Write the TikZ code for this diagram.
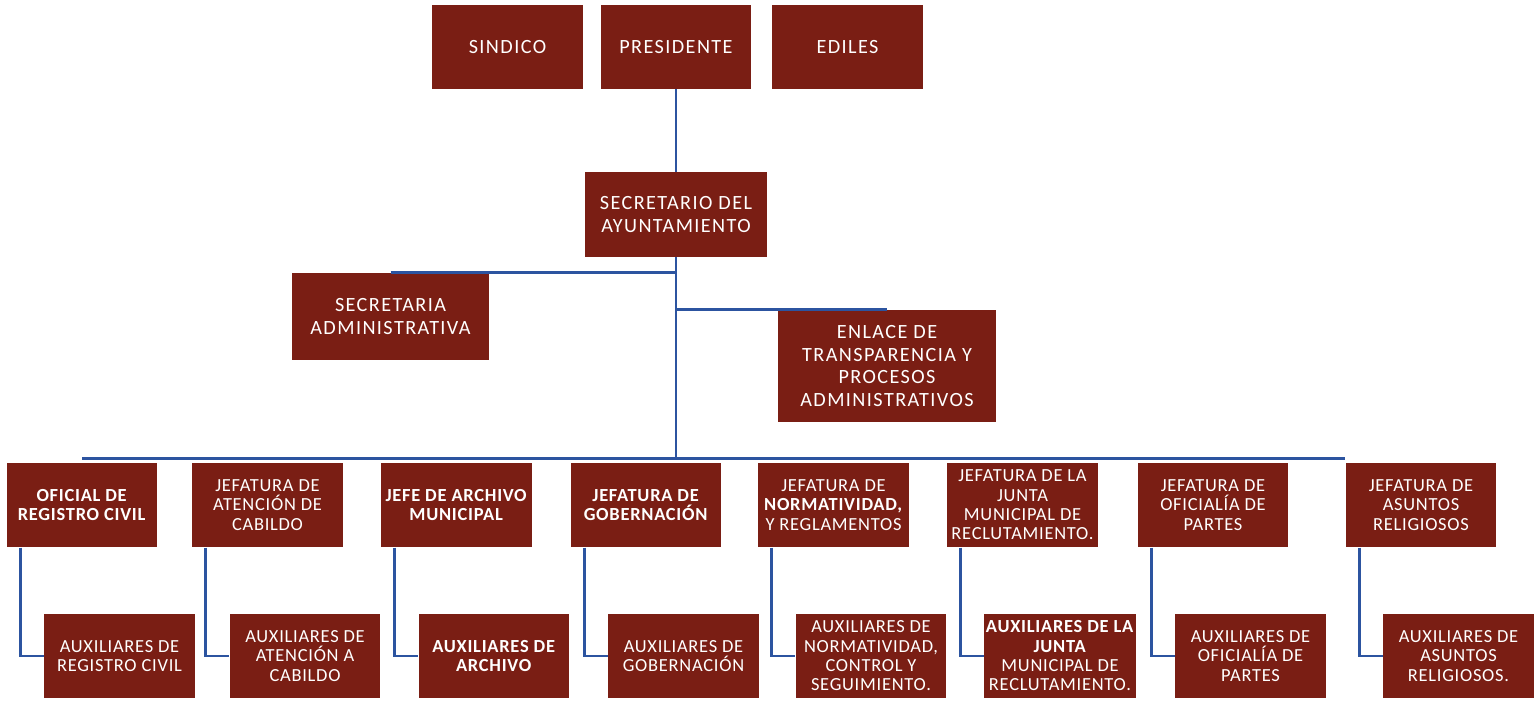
\documentclass[tikz,border=0pt]{standalone}
\usepackage{fontspec}
\newfontfamily\cargofont{Carlito}[LetterSpace=4]
\newfontfamily\altofont{Carlito}[LetterSpace=7]

\definecolor{guinda}{RGB}{122,30,20}
\definecolor{azul}{RGB}{44,84,160}

\tikzset{
	cargo/.style={fill=guinda, text=white, align=center, inner sep=1pt},
	alto/.style={cargo, font=\altofont\fontsize{11.5}{13}\selectfont},
	bajo/.style={cargo, minimum width=3.02cm, minimum height=1.69cm,
		font=\cargofont\fontsize{10.5}{11}\selectfont},
	linea/.style={azul, line width=1.6pt},
}

\begin{document}
\begin{tikzpicture}[x=0.02cm, y=-0.02cm]

\useasboundingbox (0,0) rectangle (1536,702);

% Top row
\node[alto, minimum width=3.02cm, minimum height=1.68cm] (sindico) at (507.5,47) {SINDICO};
\node[alto, minimum width=3.02cm, minimum height=1.68cm] (presidente) at (676,47) {PRESIDENTE};
\node[alto, minimum width=3.02cm, minimum height=1.68cm] (ediles) at (847.5,47) {EDILES};

% Secretario and his two staff offices
\node[alto, minimum width=3.64cm, minimum height=1.70cm] (secretario) at (676,214.5) {SECRETARIO DEL\\AYUNTAMIENTO};
\node[alto, minimum width=3.94cm, minimum height=1.74cm] (secadm) at (390.5,316.5) {SECRETARIA\\ADMINISTRATIVA};
\node[alto, minimum width=4.36cm, minimum height=2.24cm] (enlace) at (887,366) {ENLACE DE\\TRANSPARENCIA Y\\PROCESOS\\ADMINISTRATIVOS};

\draw[linea] (presidente.south) -- (secretario.north);
\draw[linea] (secretario.south) -- (secretario.south |- 0,460);
\draw[linea] (secadm.north) -- (secadm.north -| secretario.south);
\draw[linea] (enlace.north) -- (enlace.north -| secretario.south);

% Jefaturas (row 3) and auxiliares (row 4)
\foreach \n/\x/\t/\u in {
	1/82/{\textbf{OFICIAL DE}\\\textbf{REGISTRO CIVIL}}/{AUXILIARES DE\\REGISTRO CIVIL},
	2/267.5/{JEFATURA DE\\ATENCIÓN DE\\CABILDO}/{AUXILIARES DE\\ATENCIÓN A\\CABILDO},
	3/456.5/{\textbf{JEFE DE ARCHIVO}\\\textbf{MUNICIPAL}}/{\textbf{AUXILIARES DE}\\\textbf{ARCHIVO}},
	4/646/{\textbf{JEFATURA DE}\\\textbf{GOBERNACIÓN}}/{AUXILIARES DE\\GOBERNACIÓN},
	5/833.5/{JEFATURA DE\\\textbf{NORMATIVIDAD,}\\Y REGLAMENTOS}/{AUXILIARES DE\\NORMATIVIDAD,\\CONTROL Y\\SEGUIMIENTO.},
	6/1022.5/{JEFATURA DE LA\\JUNTA\\MUNICIPAL DE\\RECLUTAMIENTO.}/{\textbf{AUXILIARES DE LA}\\\textbf{JUNTA}\\MUNICIPAL DE\\RECLUTAMIENTO.},
	7/1213/{JEFATURA DE\\OFICIALÍA DE\\PARTES}/{AUXILIARES DE\\OFICIALÍA DE\\PARTES},
	8/1421/{JEFATURA DE\\ASUNTOS\\RELIGIOSOS}/{AUXILIARES DE\\ASUNTOS\\RELIGIOSOS.}} {
\node[bajo] (j\n) at (\x,505) {\t};
\node[bajo] (a\n) at (\x+37.5,656) {\u};
\draw[linea] ([xshift=0.28cm]j\n.south west) |- (a\n.west);
}

% Bus line over the jefaturas
\draw[linea] ([yshift=2pt]j1.north) -- ([yshift=2pt]j8.north west);

\end{tikzpicture}
\end{document}
